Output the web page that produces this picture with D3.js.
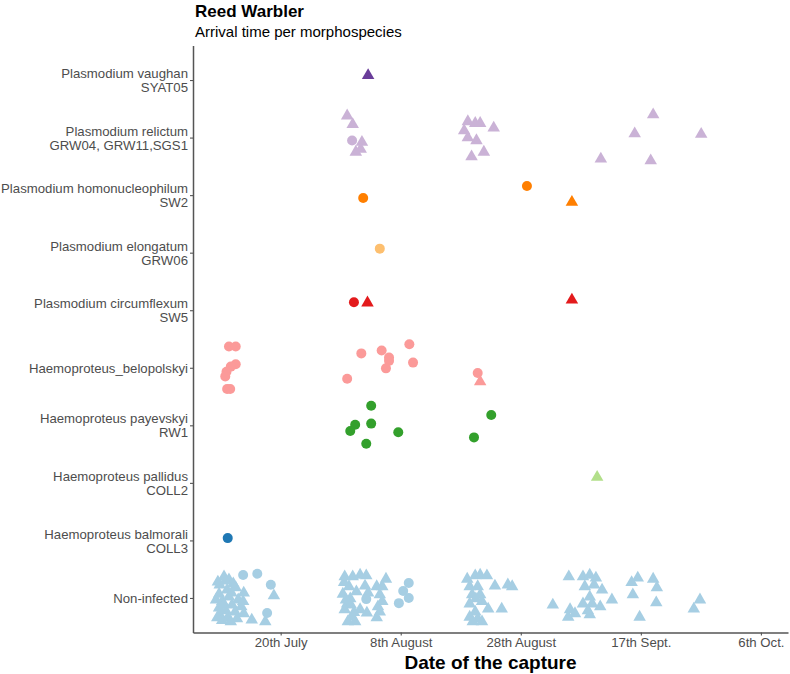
<!DOCTYPE html>
<html>
<head>
<meta charset="utf-8">
<script src="https://cdn.jsdelivr.net/npm/d3@7"></script>
<style>
  body { margin: 0; background: #fff; }
  svg { display: block; font-family: "Liberation Sans", Arial, sans-serif; }
</style>
</head>
<body>
<div id="chart"></div>
<script>
// categories, top to bottom
const categories = ['vaughan', 'relictum', 'homonucleophilum', 'elongatum', 'circumflexum',
  'belopolskyi', 'payevskyi', 'pallidus', 'balmorali', 'noninfected'];
const categoryLabels = [
  ['Plasmodium vaughan', 'SYAT05'],
  ['Plasmodium relictum', 'GRW04, GRW11,SGS1'],
  ['Plasmodium homonucleophilum', 'SW2'],
  ['Plasmodium elongatum', 'GRW06'],
  ['Plasmodium circumflexum', 'SW5'],
  ['Haemoproteus_belopolskyi'],
  ['Haemoproteus payevskyi', 'RW1'],
  ['Haemoproteus pallidus', 'COLL2'],
  ['Haemoproteus balmorali', 'COLL3'],
  ['Non-infected']
];
const categoryColors = ['#6a3d9a', '#cab2d6', '#ff7f00', '#fdbf6f', '#e31a1c',
  '#fb9a99', '#33a02c', '#b2df8a', '#1f78b4', '#a6cee3'];

// x axis: day of year
const tickDays = [201, 220.5, 240, 259.5, 279];
const tickLabels = ['20th July', '8th August', '28th August', '17th Sept.', '6th Oct.'];

// points: [day of year, vertical jitter (category units, + = up), shape]
const vaughanPoints = [[215.2, 0.11, 't']];
const relictumPoints = [
  [211.8, 0.41, 't'], [212.7, 0.26, 't'], [212.6, -0.05, 'c'], [214.2, -0.05, 't'],
  [214.0, -0.17, 't'], [213.2, -0.22, 't'], [231.4, 0.31, 't'], [232.6, 0.28, 't'],
  [233.4, 0.28, 't'], [235.6, 0.20, 't'], [230.8, 0.15, 't'], [231.4, 0.03, 't'],
  [232.8, -0.02, 't'], [232.0, -0.30, 't'], [234.0, -0.22, 't'], [261.5, 0.43, 't'],
  [258.5, 0.10, 't'], [269.3, 0.09, 't'], [253.0, -0.34, 't'], [261.1, -0.37, 't']
];
const homonucleophilumPoints = [[214.4, -0.05, 'c'], [241.0, 0.16, 'c'], [248.3, -0.09, 't']];
const elongatumPoints = [[217.1, 0.07, 'c']];
const circumflexumPoints = [[212.9, 0.14, 'c'], [215.1, 0.16, 't'], [248.3, 0.21, 't']];
const belopolskyiPoints = [
  [192.6, 0.37, 'c'], [193.7, 0.37, 'c'], [193.7, 0.06, 'c'], [192.9, 0.02, 'c'],
  [192.2, -0.07, 'c'], [192.0, -0.15, 'c'], [192.3, -0.37, 'c'], [192.8, -0.37, 'c'],
  [214.1, 0.25, 'c'], [217.4, 0.30, 'c'], [218.6, 0.18, 'c'], [218.6, 0.12, 'c'],
  [218.1, -0.01, 'c'], [221.9, 0.41, 'c'], [222.5, 0.09, 'c'], [211.8, -0.19, 'c'],
  [233.0, -0.09, 'c'], [233.4, -0.21, 't']
];
const payevskyiPoints = [
  [215.7, 0.34, 'c'], [213.1, 0.01, 'c'], [212.3, -0.10, 'c'], [215.7, 0.03, 'c'],
  [220.1, -0.12, 'c'], [214.9, -0.32, 'c'], [235.2, 0.18, 'c'], [232.4, -0.21, 'c']
];
const pallidusPoints = [[252.4, 0.13, 't']];
const balmoraliPoints = [[192.4, 0.04, 'c']];
const noninfectedPoints = [
  [191.8, 0.40, 't'], [193.3, 0.28, 't'], [191.1, 0.26, 't'], [192.3, 0.17, 't'],
  [193.7, 0.21, 't'], [195.0, 0.12, 't'], [191.0, 0.10, 't'], [192.6, 0.05, 't'],
  [194.1, 0.00, 't'], [191.5, -0.03, 't'], [193.1, -0.09, 't'], [191.0, -0.14, 't'],
  [194.6, -0.12, 't'], [192.1, -0.19, 't'], [193.6, -0.21, 't'], [191.1, -0.26, 't'],
  [195.0, -0.24, 't'], [192.4, -0.31, 't'], [191.5, -0.36, 't'], [193.9, -0.33, 't'],
  [196.3, -0.35, 't'], [198.5, -0.38, 't'], [199.9, 0.07, 't'], [192.6, 0.35, 't'],
  [190.5, 0.00, 't'], [194.9, -0.03, 't'], [192.9, -0.38, 't'], [190.8, 0.31, 't'],
  [192.0, 0.33, 't'], [193.0, 0.12, 't'], [191.8, -0.08, 't'], [190.7, -0.31, 't'],
  [194.9, 0.40, 'c'], [197.2, 0.42, 'c'], [199.4, 0.23, 'c'], [198.8, -0.26, 'c'],
  [211.4, 0.40, 't'], [212.7, 0.40, 't'], [213.9, 0.43, 't'], [214.9, 0.42, 't'],
  [218.1, 0.36, 't'], [214.7, 0.24, 't'], [216.6, 0.23, 't'], [217.5, 0.23, 't'],
  [211.1, 0.10, 't'], [215.2, 0.12, 't'], [217.1, 0.09, 't'], [212.3, 0.02, 't'],
  [217.5, -0.03, 't'], [211.8, -0.07, 't'], [212.4, -0.09, 't'], [216.8, -0.12, 't'],
  [211.4, -0.17, 't'], [215.0, -0.23, 't'], [217.1, -0.21, 't'], [212.6, -0.30, 't'],
  [216.6, -0.31, 't'], [213.1, -0.38, 't'], [211.9, -0.38, 't'], [212.1, 0.23, 't'],
  [213.3, 0.14, 't'], [211.6, 0.00, 't'], [213.9, -0.17, 't'], [211.3, 0.30, 't'],
  [212.9, -0.22, 't'],
  [214.9, -0.02, 'c'], [221.8, 0.26, 'c'], [220.9, 0.12, 'c'], [221.8, 0.00, 'c'], [220.2, -0.09, 'c'],
  [231.3, 0.36, 't'], [232.6, 0.42, 't'], [233.4, 0.43, 't'], [234.5, 0.42, 't'],
  [235.8, 0.24, 't'], [237.9, 0.26, 't'], [238.6, 0.23, 't'], [233.0, 0.23, 't'],
  [232.1, 0.09, 't'], [233.4, 0.09, 't'], [231.7, -0.07, 't'], [233.7, -0.03, 't'],
  [234.7, -0.16, 't'], [236.9, -0.16, 't'], [232.6, -0.21, 't'], [231.7, -0.30, 't'],
  [233.0, -0.33, 't'], [232.2, -0.38, 't'], [233.7, -0.38, 't'], [231.7, 0.23, 't'], [232.7, 0.02, 't'],
  [247.8, 0.40, 't'], [250.1, 0.40, 't'], [251.2, 0.43, 't'], [252.2, 0.38, 't'],
  [250.4, 0.23, 't'], [251.9, 0.26, 't'], [253.2, 0.17, 't'], [251.2, 0.05, 't'],
  [254.8, 0.00, 't'], [250.1, -0.07, 't'], [251.6, -0.07, 't'], [252.9, -0.12, 't'],
  [245.2, -0.09, 't'], [248.0, -0.17, 't'], [250.9, -0.19, 't'], [248.8, -0.24, 't'],
  [247.7, -0.30, 't'], [251.2, -0.26, 't'],
  [258.0, 0.30, 't'], [259.0, 0.38, 't'], [261.5, 0.36, 't'], [262.1, 0.21, 't'],
  [258.2, 0.09, 't'], [262.0, -0.05, 't'], [259.3, -0.30, 't'],
  [269.1, 0.00, 't'], [268.1, -0.16, 't']
];

const seriesPoints = [vaughanPoints, relictumPoints, homonucleophilumPoints, elongatumPoints,
  circumflexumPoints, belopolskyiPoints, payevskyiPoints, pallidusPoints, balmoraliPoints,
  noninfectedPoints];

const width = 790, height = 674;
const margin = { top: 45.5, right: 2, bottom: 41.5, left: 193 };

const svg = d3.select('#chart').append('svg')
  .attr('width', width)
  .attr('height', height);

const x = d3.scaleLinear()
  .domain([186.76, 283.4])
  .range([margin.left, width - margin.right]);

const y = d3.scalePoint()
  .domain(categories)
  .range([margin.top, height - margin.bottom])
  .padding(0.6);

const step = y.step();
const side = 12.5, triH = side * 0.866;
const triPath = `M0,${-triH / 2}L${side / 2},${triH / 2}L${-side / 2},${triH / 2}Z`;

// points
const points = [];
seriesPoints.forEach((pts, i) => {
  pts.forEach(p => points.push({ cat: categories[i], color: categoryColors[i], day: p[0], off: p[1], shape: p[2] }));
});

const g = svg.append('g');
g.selectAll('.pt')
  .data(points)
  .join(enter => enter.append(d => document.createElementNS('http://www.w3.org/2000/svg', d.shape === 'c' ? 'circle' : 'path')))
  .attr('class', 'pt')
  .attr('fill', d => d.color)
  .each(function(d) {
    const px = x(d.day), py = y(d.cat) - d.off * step;
    if (d.shape === 'c') {
      d3.select(this).attr('cx', px).attr('cy', py).attr('r', 5);
    } else {
      d3.select(this).attr('d', triPath).attr('transform', `translate(${px},${py})`);
    }
  });

// axes
const yAxis = svg.append('g')
  .attr('transform', `translate(${margin.left},0)`)
  .call(d3.axisLeft(y).tickSize(3).tickSizeOuter(0).tickFormat(''));

yAxis.selectAll('.tick').each(function(d, i) {
  const lines = categoryLabels[categories.indexOf(d)];
  const t = d3.select(this).append('text')
    .attr('x', -5)
    .attr('text-anchor', 'end')
    .attr('fill', '#4d4d4d')
    .attr('font-size', '13.2px');
  const lh = 14;
  lines.forEach((ln, k) => {
    t.append('tspan')
      .attr('x', -5)
      .attr('y', (k - (lines.length - 1) / 2) * lh)
      .attr('dy', '0.35em')
      .text(ln);
  });
});

const xAxis = svg.append('g')
  .attr('transform', `translate(0,${height - margin.bottom})`)
  .call(d3.axisBottom(x).tickValues(tickDays).tickFormat((d, i) => tickLabels[i]).tickSize(3).tickSizeOuter(0));

xAxis.selectAll('text')
  .attr('fill', '#4d4d4d')
  .attr('font-size', '13.2px')
  .attr('y', 5);

svg.selectAll('.domain').attr('stroke', '#555').attr('stroke-width', 1.5);
svg.selectAll('.tick line').attr('stroke', '#555').attr('stroke-width', 1.1);
svg.selectAll('g[font-family]').attr('font-family', null);

// titles
svg.append('text')
  .attr('x', 195).attr('y', 17)
  .attr('font-size', '17px').attr('font-weight', 'bold')
  .attr('fill', '#000')
  .text('Reed Warbler');

svg.append('text')
  .attr('x', 195).attr('y', 37)
  .attr('font-size', '15px')
  .attr('fill', '#000')
  .text('Arrival time per morphospecies');

svg.append('text')
  .attr('x', (margin.left + width - margin.right) / 2).attr('y', 669)
  .attr('text-anchor', 'middle')
  .attr('font-size', '19px').attr('font-weight', 'bold')
  .attr('fill', '#000')
  .text('Date of the capture');
</script>
</body>
</html>
